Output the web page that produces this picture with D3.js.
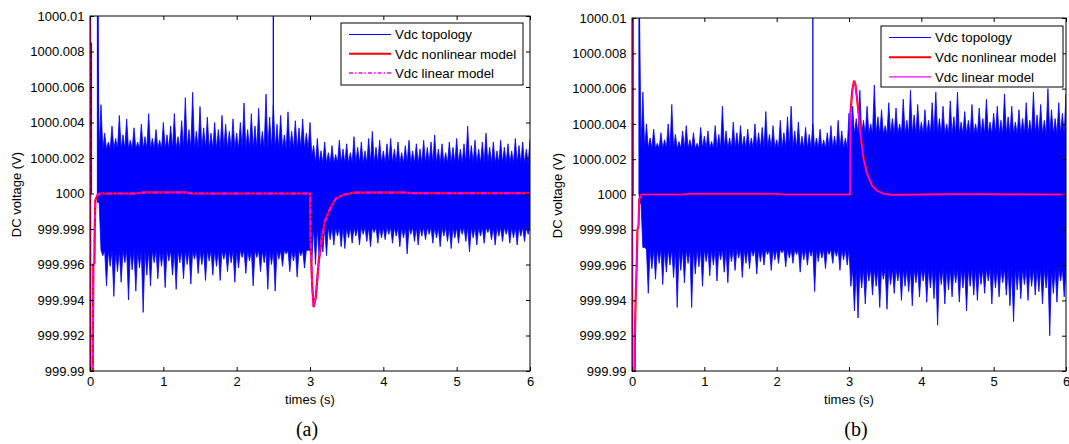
<!DOCTYPE html>
<html><head><meta charset="utf-8">
<script src="https://cdn.jsdelivr.net/npm/d3@7"></script>
<style>
body{margin:0;background:#fff}
svg{display:block}
</style>
</head><body>
<svg id="c" width="1069" height="444"></svg>
<script>
// ---------- data ----------
const xTicks = [0, 1, 2, 3, 4, 5, 6];
const xTickLabels = ["0", "1", "2", "3", "4", "5", "6"];
const yTicks = [999.99, 999.992, 999.994, 999.996, 999.998, 1000, 1000.002, 1000.004, 1000.006, 1000.008, 1000.01];
const yTickLabels = ["999.99", "999.992", "999.994", "999.996", "999.998", "1000", "1000.002", "1000.004", "1000.006", "1000.008", "1000.01"];
const legendLabels = ["Vdc topology", "Vdc nonlinear model", "Vdc linear model"];
const xLabel = "times (s)";
const yLabel = "DC voltage (V)";
const captions = ["(a)", "(b)"];
const nominalV = 1000; // deviations below are in mV around 1000 V

// topology signal envelope, sampled from t = 0.10 s every 0.05 s (mV deviation)
const topoStart = 0.10, topoStep = 0.05;
const topoHiA = [
  12, 5.0, 3.4, 2.9, 3.8, 3.1, 4.4, 3.3, 4.2, 3.0,
  3.7, 2.9, 3.9, 3.2, 4.5, 3.1, 3.6, 3.0, 4.0, 3.3,
  3.8, 4.5, 3.2, 4.1, 5.4, 3.6, 5.7, 3.5, 4.9, 3.7,
  4.3, 3.4, 4.0, 3.6, 4.4, 3.9, 3.5, 4.2, 3.4, 4.0,
  5.1, 3.6, 4.5, 3.8, 4.8, 3.5, 5.6, 4.3, 5.0, 3.9,
  4.4, 3.3, 4.6, 3.5, 4.1, 3.7, 4.2, 3.4, 4.0, 2.7,
  3.1, 2.4, 2.9, 2.3, 2.7, 2.2, 3.0, 2.5, 2.8, 2.3,
  3.2, 2.6, 2.9, 2.4, 3.1, 3.5, 2.6, 3.0, 2.4, 2.8,
  3.1, 2.5, 2.9, 2.3, 2.7, 3.0, 2.4, 2.8, 2.5, 3.0,
  2.6, 2.9, 3.3, 2.5, 2.8, 2.3, 2.9, 2.6, 3.1, 2.5,
  2.8, 3.8, 2.7, 3.0, 2.5, 2.9, 3.4, 2.6, 2.9, 2.4,
  3.0, 2.6, 2.8, 2.4, 3.1, 2.7, 2.9, 2.5, 3.0
];
const topoLoA = [
  -0.5, -3.5, -5.2, -4.1, -5.8, -4.4, -5.0, -3.9, -6.0, -4.3,
  -5.5, -4.2, -6.7, -4.6, -5.2, -3.9, -4.8, -4.1, -5.3, -3.8,
  -4.6, -5.4, -3.9, -4.8, -4.0, -5.1, -3.7, -4.5, -4.0, -4.9,
  -3.8, -4.6, -4.1, -4.9, -3.7, -4.4, -3.9, -5.0, -4.2, -3.6,
  -4.5, -3.8, -5.2, -3.6, -4.4, -3.9, -5.4, -4.0, -5.5, -3.7,
  -4.1, -3.4, -4.4, -3.8, -4.7, -3.5, -4.2, -3.2, -3.8, -4.0,
  -3.7, -3.3, -3.5, -2.6, -2.9, -2.4, -3.0, -3.1, -2.5, -2.8,
  -2.4, -2.9, -2.3, -2.7, -3.0, -2.2, -2.8, -2.5, -2.6, -2.3,
  -2.8, -2.4, -3.0, -2.5, -3.4, -2.3, -2.7, -2.9, -2.4, -2.6,
  -2.3, -2.8, -2.5, -3.0, -2.4, -2.7, -3.1, -2.5, -2.8, -2.3,
  -2.7, -3.3, -2.5, -2.9, -2.4, -2.8, -2.2, -2.6, -2.9, -2.4,
  -2.7, -2.3, -2.8, -2.5, -2.9, -2.4, -2.7, -2.3, -2.6
];
const topoHiB = [
  12, 5.8, 4.0, 3.2, 3.7, 2.9, 3.5, 3.1, 4.0, 5.1,
  3.4, 3.0, 3.6, 3.9, 3.1, 3.5, 2.9, 3.8, 3.3, 3.6,
  3.0, 3.9, 3.4, 5.0, 3.6, 3.2, 4.1, 3.5, 3.9, 3.3,
  3.7, 3.2, 4.0, 3.5, 3.8, 4.7, 3.4, 3.9, 3.1, 4.2,
  3.5, 4.4, 5.0, 3.6, 4.1, 3.3, 3.8, 3.4, 4.0, 3.2,
  3.7, 3.1, 3.5, 3.9, 3.3, 4.2, 3.6, 3.2, 4.6, 5.0,
  4.3, 5.9, 4.2, 5.0, 4.0, 6.2, 4.4, 4.8, 3.9, 5.2,
  4.3, 4.9, 4.0, 5.4, 4.2, 5.9, 4.5, 5.1, 4.1, 4.8,
  4.2, 5.2, 5.8, 4.3, 5.0, 4.0, 5.3, 4.4, 5.8, 4.1,
  4.7, 4.2, 5.1, 4.0, 4.9, 4.3, 5.4, 4.1, 4.6, 5.0,
  4.2, 5.7, 4.4, 5.0, 4.1, 4.8, 4.3, 5.2, 4.2, 5.8,
  4.5, 5.1, 4.2, 6.0, 4.8, 4.3, 5.2, 4.6, 5.7
];
const topoLoB = [
  -0.5, -3.0, -5.6, -4.2, -4.8, -3.9, -5.1, -4.4, -4.0, -4.7,
  -6.4, -4.3, -5.0, -3.9, -6.4, -4.5, -4.1, -5.2, -3.8, -4.6,
  -4.0, -4.9, -3.7, -4.4, -5.0, -3.8, -4.3, -3.6, -4.7, -3.9,
  -4.2, -3.5, -4.5, -3.8, -4.0, -3.4, -4.3, -3.7, -3.9, -3.3,
  -4.1, -3.6, -3.9, -3.4, -4.4, -3.7, -4.0, -3.5, -5.5, -3.8,
  -3.6, -4.2, -3.4, -3.9, -3.5, -4.3, -3.7, -4.0, -5.2, -6.6,
  -7.0, -5.3, -6.2, -4.9, -5.7, -5.2, -6.4, -4.8, -6.5, -5.1,
  -5.6, -4.9, -6.0, -5.2, -5.5, -6.3, -5.0, -5.8, -4.9, -6.1,
  -5.3, -5.9, -7.4, -5.1, -6.2, -5.4, -5.8, -5.0, -6.1, -5.3,
  -6.6, -5.2, -5.7, -6.0, -5.1, -5.6, -4.9, -6.2, -5.3, -5.8,
  -5.0, -5.7, -6.3, -7.2, -5.4, -5.9, -5.1, -6.0, -5.2, -5.7,
  -5.5, -6.2, -5.3, -8.0, -5.6, -6.1, -4.9, -5.8, -4.6
];
// level of the dense (solid) part of the topology band (mV deviation)
const coreTA = [0.13, 3.0, 3.05, 6.0];
const coreHiA = [2.5, 2.5, 1.7, 1.7];
const coreLoA = [-3.2, -3.2, -1.9, -1.9];
const coreTB = [0.13, 3.0, 3.05, 6.0];
const coreHiB = [2.6, 2.6, 3.4, 3.4];
const coreLoB = [-3.1, -3.1, -4.2, -4.2];
// isolated topology spikes (time s, low mV, high mV)
const spikeTA = [0.02, 0.11, 2.50];
const spikeLoA = [0, 0, 3];
const spikeHiA = [8.5, 12, 12];
const spikeTB = [0.015, 0.10, 2.50];
const spikeLoB = [0, 0, 3];
const spikeHiB = [12, 12, 12];

// model responses (mV deviation)
const modelTA = [0, 0.005, 0.03, 0.04, 0.045, 0.06, 0.065, 0.072, 0.10, 0.13, 0.6, 0.75, 1.3, 1.4, 3.0, 3.005, 3.03, 3.05, 3.08, 3.12, 3.16, 3.2, 3.28, 3.35, 3.45, 3.6, 4.3, 4.4, 6.0];
const nonlinA = [20, -25, -25, -8, -4, -3.9, -2, -0.4, -0.1, 0, 0, 0.06, 0.06, 0, 0, -2.3, -5.2, -6.4, -5.8, -3.8, -2.6, -1.6, -0.8, -0.3, -0.08, 0.05, 0.05, 0.02, 0.02];
const linA = [20, -25, -25, -8, -4, -3.9, -2, -0.4, -0.1, 0, 0, 0.06, 0.06, 0, 0, -2.3, -5.2, -6.4, -5.8, -3.8, -2.6, -1.6, -0.8, -0.3, -0.08, 0.05, 0.05, 0.02, 0.02];
const modelTB = [0, 0.005, 0.03, 0.04, 0.05, 0.065, 0.075, 0.09, 0.10, 0.13, 0.7, 0.8, 2.0, 2.1, 3.015, 3.02, 3.045, 3.07, 3.09, 3.11, 3.14, 3.16, 3.2, 3.25, 3.32, 3.39, 3.48, 3.6, 4.5, 6.0];
const nonlinB = [20, -25, -25, -8, -6, -4, -2, -1.8, -0.3, 0, 0, 0.04, 0.04, 0, 0, 4.6, 5.9, 6.45, 6.2, 5.5, 4.3, 3.4, 2.1, 1.2, 0.5, 0.22, 0.04, -0.02, 0.02, 0];
const linB = [20, -25, -25, -8, -6, -4, -2, -1.8, -0.3, 0, 0, 0.04, 0.04, 0, 0, 4.5, 5.8, 6.4, 6.15, 5.4, 4.2, 3.3, 2.0, 1.15, 0.48, 0.2, 0.04, -0.02, 0.02, 0];

// ---------- drawing ----------
const FONT = "'Liberation Sans', Arial, sans-serif";
const svg = d3.select("#c");
const V = d => nominalV + d / 1000;

function panel(p) {
  const x = d3.scaleLinear().domain([0, 6]).range([p.l, p.r]);
  const y = d3.scaleLinear().domain([999.99, 1000.01]).range([p.b, p.t]);
  const clipId = "clip" + p.id;
  svg.append("clipPath").attr("id", clipId).append("rect")
    .attr("x", p.l).attr("y", p.t).attr("width", p.r - p.l).attr("height", p.b - p.t);
  const pg = svg.append("g").attr("clip-path", `url(#${clipId})`);

  // topology band: peaks alternate with the dense-core level
  const coreHi = d3.scaleLinear().domain(p.coreT).range(p.coreHi).clamp(true);
  const coreLo = d3.scaleLinear().domain(p.coreT).range(p.coreLo).clamp(true);
  const upper = [], lower = [];
  p.hi.forEach((h, i) => {
    const t = topoStart + i * topoStep;
    upper.push([t, h]);
    upper.push([t + topoStep / 2, Math.min(coreHi(t + topoStep / 2), h)]);
  });
  p.lo.forEach((l, i) => {
    const t = topoStart + i * topoStep;
    lower.push([t, Math.max(coreLo(t), l)]);
    lower.push([t + topoStep / 2, l]);
  });
  const poly = upper.concat(lower.reverse());
  pg.append("path").datum(poly)
    .attr("d", d3.line().x(d => x(d[0])).y(d => y(V(d[1]))).curve(d3.curveLinearClosed))
    .attr("fill", "#0000ff").attr("stroke", "#0000ff").attr("stroke-width", 0.8)
    .attr("stroke-linejoin", "miter").attr("stroke-miterlimit", 3);
  // isolated spikes
  pg.selectAll("line.sp").data(p.spT).enter().append("line")
    .attr("x1", d => x(d)).attr("x2", d => x(d))
    .attr("y1", (d, i) => y(V(p.spLo[i]))).attr("y2", (d, i) => y(V(p.spHi[i])))
    .attr("stroke", "#0000ff").attr("stroke-width", 1.3);

  // models
  const ml = d3.line().x(d => x(d[0])).y(d => y(V(d[1])));
  pg.append("path").datum(p.mT.map((t, i) => [t, p.nl[i]]))
    .attr("d", ml).attr("fill", "none").attr("stroke", "#ff0000").attr("stroke-width", 2.2);
  pg.append("path").datum(p.mT.map((t, i) => [t, p.li[i]]))
    .attr("d", ml).attr("fill", "none").attr("stroke", "#ff00ff")
    .attr("stroke-width", p.dash ? 2 : 1.1)
    .attr("stroke-dasharray", p.dash ? "5,2.5,1.5,2.5" : null);

  // axes (MATLAB style: inward ticks on all four sides)
  const styleAxis = (g, labels) => {
    g.select(".domain").remove();
    g.selectAll(".tick line").attr("stroke", "#000");
    g.selectAll("text").attr("font-family", FONT).attr("font-size", 13).attr("fill", "#000");
    if (!labels) g.selectAll("text").remove();
  };
  svg.append("g").attr("transform", `translate(0,${p.b})`)
    .call(d3.axisBottom(x).tickValues(xTicks).tickFormat((d, i) => xTickLabels[i]).tickSizeInner(-4).tickSizeOuter(0).tickPadding(6))
    .call(g => styleAxis(g, true));
  svg.append("g").attr("transform", `translate(0,${p.t})`)
    .call(d3.axisTop(x).tickValues(xTicks).tickSizeInner(-4).tickSizeOuter(0))
    .call(g => styleAxis(g, false));
  svg.append("g").attr("transform", `translate(${p.l},0)`)
    .call(d3.axisLeft(y).tickValues(yTicks).tickFormat((d, i) => yTickLabels[i]).tickSizeInner(-4).tickSizeOuter(0).tickPadding(5.5))
    .call(g => styleAxis(g, true));
  svg.append("g").attr("transform", `translate(${p.r},0)`)
    .call(d3.axisRight(y).tickValues(yTicks).tickSizeInner(-4).tickSizeOuter(0))
    .call(g => styleAxis(g, false));
  svg.append("rect").attr("x", p.l).attr("y", p.t).attr("width", p.r - p.l).attr("height", p.b - p.t)
    .attr("fill", "none").attr("stroke", "#000").attr("stroke-width", 1);

  // labels
  svg.append("text").attr("x", (p.l + p.r) / 2).attr("y", 404).attr("text-anchor", "middle")
    .attr("font-family", FONT).attr("font-size", 13).text(xLabel);
  svg.append("text").attr("transform", `translate(${p.ylx},${(p.t + p.b) / 2 + 1}) rotate(-90)`)
    .attr("text-anchor", "middle").attr("font-family", FONT).attr("font-size", 13).text(yLabel);
  svg.append("text").attr("x", p.capX).attr("y", 435.5).attr("text-anchor", "middle")
    .attr("font-family", "'Liberation Serif', 'Times New Roman', serif").attr("font-size", 20).text(p.cap);

  // legend
  const L = p.leg;
  svg.append("rect").attr("x", L.x).attr("y", L.y).attr("width", L.w).attr("height", L.h)
    .attr("fill", "#fff").attr("stroke", "#000").attr("stroke-width", 1);
  const styles = [
    { c: "#0000ff", w: 1.2, d: null },
    { c: "#ff0000", w: 2, d: null },
    { c: "#ff00ff", w: p.dash ? 1.5 : 1.1, d: p.dash ? "4,2,1.5,2" : null }
  ];
  legendLabels.forEach((lab, i) => {
    const yy = L.y + L.r0 + i * L.dy;
    svg.append("line").attr("x1", L.x + 8).attr("x2", L.x + 50).attr("y1", yy).attr("y2", yy)
      .attr("stroke", styles[i].c).attr("stroke-width", styles[i].w).attr("stroke-dasharray", styles[i].d);
    svg.append("text").attr("x", L.x + 54).attr("y", yy).attr("dy", "0.36em")
      .attr("font-family", FONT).attr("font-size", 13.3).text(lab);
  });
}

panel({ id: "a", l: 90, r: 530, t: 16, b: 371, hi: topoHiA, lo: topoLoA,
  coreT: coreTA, coreHi: coreHiA, coreLo: coreLoA, spT: spikeTA, spLo: spikeLoA, spHi: spikeHiA,
  mT: modelTA, nl: nonlinA, li: linA, dash: true, ylx: 21, cap: captions[0], capX: 307,
  leg: { x: 341, y: 23, w: 182, h: 62, r0: 11.5, dy: 19.3 } });
panel({ id: "b", l: 632, r: 1066, t: 18, b: 371, hi: topoHiB, lo: topoLoB,
  coreT: coreTB, coreHi: coreHiB, coreLo: coreLoB, spT: spikeTB, spLo: spikeLoB, spHi: spikeHiB,
  mT: modelTB, nl: nonlinB, li: linB, dash: false, ylx: 562, cap: captions[1], capX: 856,
  leg: { x: 881, y: 26, w: 182, h: 61, r0: 11.5, dy: 19.7 } });
</script>
</body></html>
